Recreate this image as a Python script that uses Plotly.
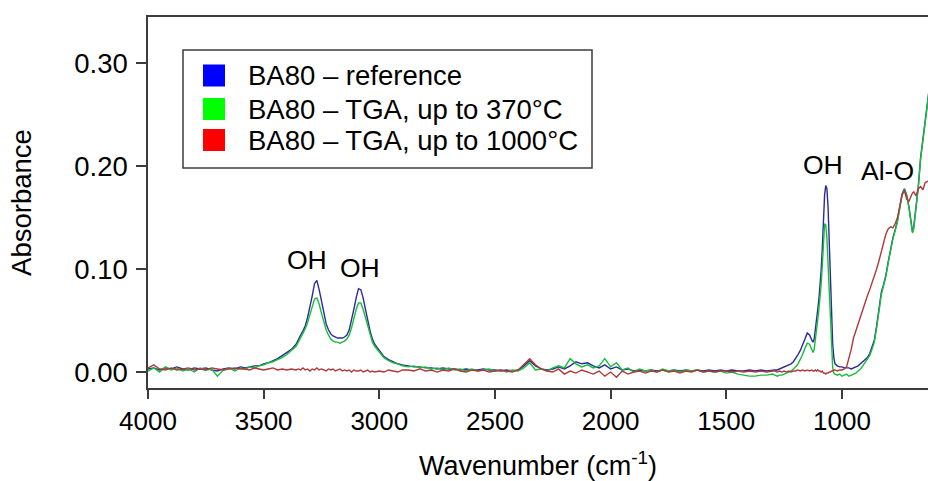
import plotly.graph_objects as go

# ---------------- data ----------------
wavenumber = [
    4000, 3975, 3950, 3925, 3900, 3875, 3850, 3825, 3800, 3775, 3750, 3725, 3700, 3675, 3650, 3625, 3600,
    3580, 3560, 3540, 3520, 3500, 3480, 3460, 3440, 3420, 3400, 3380, 3360,
    3350, 3340, 3330, 3320, 3310, 3300, 3290, 3280, 3270, 3260,
    3250, 3240, 3230, 3220, 3210, 3200, 3190, 3180, 3170, 3160,
    3150, 3140, 3130, 3120, 3110, 3100, 3090, 3080, 3070, 3060,
    3050, 3040, 3030, 3020,
    3000, 2980, 2960, 2940, 2920, 2900,
    2875, 2850, 2825, 2800, 2775, 2750, 2725, 2700, 2675, 2650, 2625, 2600, 2575, 2550, 2525, 2500,
    2475, 2450, 2425, 2400, 2375, 2350, 2325, 2300, 2275, 2250, 2225, 2200, 2175, 2150, 2125, 2100,
    2075, 2050, 2025, 2000, 1975, 1950, 1925, 1900, 1875, 1850, 1825, 1800, 1775, 1750, 1725, 1700,
    1675, 1650, 1625, 1600, 1575, 1550, 1525, 1500, 1475, 1450, 1425, 1400, 1375, 1350, 1325, 1300,
    1290, 1280, 1270, 1260, 1250, 1240, 1230, 1220, 1210, 1200, 1190, 1180, 1170, 1160, 1150, 1140, 1130,
    1125, 1120, 1115, 1110, 1105, 1100, 1095, 1090, 1085, 1080, 1075, 1070, 1065, 1060, 1055, 1050,
    1045, 1040, 1035, 1030,
    1020, 1010, 1000, 990, 980, 970, 960, 950, 940, 930, 920, 910, 900, 890, 880, 870, 860,
    850, 840, 830, 820, 810, 800, 790, 780, 770, 760, 750, 740, 730, 720, 710, 700,
    695, 690, 680, 670, 660, 650, 640, 630, 620,
]

absorbance_reference = [
    0.003, 0.004, 0.002, 0.004, 0.003, 0.005, 0.003, 0.002, 0.004, 0.003, 0.004, 0.002, 0.001, 0.003, 0.004, 0.003, 0.005,
    0.004, 0.005, 0.006, 0.006, 0.008, 0.009, 0.011, 0.013, 0.016, 0.019, 0.022, 0.027,
    0.032, 0.036, 0.040, 0.045, 0.053, 0.062, 0.074, 0.086, 0.089, 0.080,
    0.068, 0.056, 0.047, 0.041, 0.037, 0.035, 0.034, 0.033, 0.033, 0.033,
    0.034, 0.036, 0.041, 0.050, 0.061, 0.072, 0.081, 0.080, 0.072, 0.061,
    0.050, 0.040, 0.032, 0.027,
    0.021, 0.015, 0.012, 0.010, 0.008, 0.007,
    0.006, 0.005, 0.005, 0.004, 0.004, 0.003, 0.004, 0.003, 0.003, 0.002, 0.003, 0.002, 0.002, 0.003, 0.002, 0.002,
    0.001, 0.002, 0.001, 0.002, 0.006, 0.011, 0.006, 0.003, 0.002, 0.003, 0.005, 0.003, 0.006, 0.010, 0.008, 0.009,
    0.006, 0.004, 0.007, 0.003, 0.005, 0.002, 0.003, 0.001, 0.002, 0.001, 0.002, 0.001, 0.002, 0.001, 0.002, 0.001,
    0.002, 0.001, 0.002, 0.001, 0.002, 0.001, 0.002, 0.001, 0.002, 0.001, 0.001, 0.002, 0.001, 0.002, 0.001, 0.002,
    0.002, 0.002, 0.003, 0.004, 0.005, 0.006, 0.007, 0.008, 0.010, 0.013, 0.017, 0.021, 0.026, 0.032, 0.038, 0.036, 0.031,
    0.029, 0.032, 0.040, 0.050, 0.060, 0.070, 0.082, 0.098, 0.120, 0.148, 0.172, 0.181, 0.178, 0.160, 0.125, 0.090,
    0.055, 0.027, 0.014, 0.008,
    0.006, 0.005, 0.005, 0.004, 0.004, 0.004, 0.003, 0.004, 0.005, 0.006, 0.008, 0.010, 0.012, 0.014, 0.018, 0.024, 0.031,
    0.045, 0.062, 0.077, 0.085, 0.094, 0.107, 0.120, 0.130, 0.138, 0.147, 0.160, 0.173, 0.178, 0.172, 0.160, 0.143,
    0.136, 0.140, 0.158, 0.180, 0.208, 0.226, 0.245, 0.263, 0.280,
]

absorbance_tga_370 = [
    0.001, 0.004, 0.000, 0.005, 0.002, 0.004, 0.001, 0.003, 0.000, 0.004, 0.002, 0.003, -0.004, 0.002, 0.004, 0.001, 0.004,
    0.003, 0.005, 0.004, 0.006, 0.007, 0.009, 0.010, 0.012, 0.014, 0.017, 0.021, 0.025,
    0.029, 0.033, 0.037, 0.042, 0.048, 0.055, 0.064, 0.071, 0.072, 0.066,
    0.057, 0.048, 0.041, 0.036, 0.032, 0.030, 0.029, 0.029, 0.028, 0.029,
    0.030, 0.032, 0.036, 0.043, 0.052, 0.061, 0.067, 0.067, 0.061, 0.053,
    0.044, 0.036, 0.029, 0.025,
    0.019, 0.014, 0.011, 0.009, 0.008, 0.006,
    0.005, 0.006, 0.004, 0.005, 0.003, 0.004, 0.002, 0.004, 0.002, 0.003, 0.001, 0.003, 0.001, 0.002, 0.003, 0.001,
    0.002, 0.000, 0.002, 0.001, 0.004, 0.009, 0.002, 0.003, 0.001, 0.004, 0.006, 0.004, 0.013, 0.008, 0.005, 0.007,
    0.004, 0.006, 0.013, 0.005, 0.009, 0.002, 0.004, 0.000, 0.003, 0.001, 0.002, 0.000, 0.003, 0.001, 0.002, 0.000,
    0.002, 0.001, 0.002, 0.000, 0.001, 0.000, 0.001, -0.001, 0.000, -0.002, -0.003, -0.004, -0.004, -0.003, -0.003, -0.002,
    -0.003, -0.004, -0.003, -0.003, -0.002, -0.001, 0.000, 0.001, 0.003, 0.005, 0.008, 0.012, 0.017, 0.023, 0.028, 0.027, 0.021,
    0.019, 0.022, 0.030, 0.040, 0.050, 0.060, 0.071, 0.085, 0.103, 0.128, 0.144, 0.143, 0.130, 0.105, 0.075, 0.045,
    0.020, 0.004, -0.001, -0.002,
    -0.003, -0.002, -0.004, -0.003, -0.002, -0.004, -0.003, -0.002, -0.001, 0.001, 0.003, 0.006, 0.009, 0.012, 0.016, 0.022, 0.029,
    0.043, 0.060, 0.075, 0.084, 0.093, 0.106, 0.119, 0.129, 0.137, 0.146, 0.159, 0.172, 0.177, 0.171, 0.159, 0.142,
    0.135, 0.139, 0.157, 0.179, 0.207, 0.225, 0.244, 0.262, 0.279,
]

absorbance_tga_1000 = [
    0.004, 0.007, 0.003, 0.002, 0.004, 0.002, 0.003, 0.004, 0.002, 0.003, 0.002, 0.004, 0.003, 0.002, 0.003, 0.004, 0.003,
    0.003, 0.002, 0.004, 0.003, 0.002, 0.003, 0.004, 0.002, 0.003, 0.002, 0.003, 0.002,
    0.003, 0.002, 0.004, 0.002, 0.003, 0.001, 0.003, 0.002, 0.004, 0.002,
    0.003, 0.002, 0.001, 0.003, 0.002, 0.003, 0.001, 0.002, 0.003, 0.001,
    0.002, 0.001, 0.002, 0.000, 0.002, 0.001, 0.001, 0.002, 0.000, 0.001,
    0.002, 0.000, 0.001, 0.000,
    0.001, 0.000, 0.002, 0.001, 0.000, 0.002,
    0.002, 0.001, 0.003, 0.001, 0.002, 0.000, 0.002, 0.001, 0.003, 0.001, 0.000, 0.002, 0.001, 0.002, 0.000, 0.001,
    0.002, 0.001, 0.000, 0.002, 0.008, 0.013, 0.007, 0.003, 0.001, 0.000, 0.003, -0.002, 0.001, -0.001, 0.002, 0.000,
    -0.002, 0.001, -0.004, 0.000, -0.005, 0.001, -0.002, 0.000, 0.001, -0.001, 0.001, 0.000, 0.002, 0.000, 0.001, -0.001,
    0.001, 0.000, 0.002, 0.000, 0.001, 0.000, 0.001, 0.001, 0.000, 0.001, 0.000, 0.001, 0.000, 0.001, 0.000, 0.001,
    0.001, 0.000, 0.001, 0.000, 0.001, 0.000, 0.001, 0.000, 0.001, 0.001, 0.002, 0.001, 0.002, 0.001, 0.002, 0.001, 0.002,
    0.001, 0.001, 0.002, 0.001, 0.002, 0.001, 0.001, 0.000, 0.001, -0.001, -0.001, -0.002, -0.001, -0.001, 0.000, 0.000,
    0.001, 0.001, 0.002, 0.002,
    0.001, 0.002, 0.002, 0.003, 0.005, 0.013, 0.022, 0.033, 0.040, 0.048, 0.055, 0.062, 0.068, 0.074, 0.080, 0.086, 0.093,
    0.100, 0.108, 0.116, 0.125, 0.134, 0.139, 0.141, 0.140, 0.144, 0.150, 0.160, 0.172, 0.176, 0.168, 0.166, 0.172,
    0.174, 0.175, 0.171, 0.178, 0.180, 0.177, 0.184, 0.185, 0.187,
]

series_names = ["BA80 \u2013 reference", "BA80 \u2013 TGA, up to 370\u00b0C", "BA80 \u2013 TGA, up to 1000\u00b0C"]
series_values = [absorbance_reference, absorbance_tga_370, absorbance_tga_1000]

x_tick_values = [4000, 3500, 3000, 2500, 2000, 1500, 1000]
y_tick_values = [0.0, 0.1, 0.2, 0.3]

peak_labels = ["OH", "OH", "OH", "Al-O"]
peak_label_x = [3313, 3083, 1082, 805]
peak_label_y = [0.109, 0.101, 0.201, 0.195]

for v in series_values:
    assert len(v) == len(wavenumber), (len(v), len(wavenumber))

# ---------------- styling ----------------
FONT = "Liberation Sans, Arial, sans-serif"
W, H = 928, 481
ML, MR, MT, MB = 148, 0, 17, 93
PW, PH = W - ML - MR, H - MT - MB
AXIS_COLOR = "#3c3c3c"
line_colors = ["#2a2a9c", "#14c038", "#b03838"]
legend_colors = ["#0000ff", "#00ff00", "#ff0000"]


def paper_x(px):
    return (px - ML) / PW


def paper_y(py):
    return (H - MB - py) / PH


fig = go.Figure()
for name, vals, col in zip(series_names, series_values, line_colors):
    fig.add_trace(go.Scatter(
        x=wavenumber, y=vals, mode="lines", name=name,
        line=dict(color=col, width=1.4), showlegend=False,
    ))

# peak annotations
for t, xv, yv in zip(peak_labels, peak_label_x, peak_label_y):
    fig.add_annotation(x=xv, y=yv, xref="x", yref="y", text=t, showarrow=False,
                       font=dict(family=FONT, size=26.5, color="black"),
                       xanchor="center", yanchor="middle")

# hand-drawn legend (box, colour squares, labels)
shapes = [dict(type="rect", xref="paper", yref="paper",
               x0=paper_x(183), x1=paper_x(592), y0=paper_y(168), y1=paper_y(50),
               line=dict(color=AXIS_COLOR, width=1.5), fillcolor="white", layer="above")]
row_centers = [75.5, 109, 140]
for rc, col, name in zip(row_centers, legend_colors, series_names):
    shapes.append(dict(type="rect", xref="paper", yref="paper",
                       x0=paper_x(203), x1=paper_x(225), y0=paper_y(rc + 11), y1=paper_y(rc - 11),
                       line=dict(width=0), fillcolor=col, layer="above"))
    fig.add_annotation(x=paper_x(246), y=paper_y(rc), xref="paper", yref="paper",
                       text=name, showarrow=False, xanchor="left", yanchor="middle",
                       font=dict(family=FONT, size=27.5, color="black"))

fig.update_layout(
    width=W, height=H,
    margin=dict(l=ML, r=MR, t=MT, b=MB, pad=0),
    paper_bgcolor="white", plot_bgcolor="white",
    font=dict(family=FONT, size=26, color="black"),
    shapes=shapes,
    showlegend=False,
)
fig.update_xaxes(
    range=[4000, 628], autorange=False,
    tickmode="array", tickvals=x_tick_values, ticktext=[str(v) for v in x_tick_values],
    ticks="outside", ticklen=9, tickwidth=1.5, tickcolor=AXIS_COLOR,
    showline=True, linecolor=AXIS_COLOR, linewidth=1.5, mirror=True,
    showgrid=False, zeroline=False,
    tickfont=dict(family=FONT, size=26, color="black"),
    title=dict(text="Wavenumber (cm<sup>-1</sup>)", standoff=22,
               font=dict(family=FONT, size=27, color="black")),
)
fig.update_yaxes(
    range=[-0.0155, 0.3447], autorange=False,
    tickmode="array", tickvals=y_tick_values, ticktext=["%.2f" % v for v in y_tick_values],
    ticks="outside", ticklen=10, tickwidth=1.5, tickcolor=AXIS_COLOR,
    showline=True, linecolor=AXIS_COLOR, linewidth=1.5, mirror=False,
    showgrid=False, zeroline=False, ticklabelstandoff=3,
    tickfont=dict(family=FONT, size=27.5, color="black"),
    title=dict(text="Absorbance", standoff=35,
               font=dict(family=FONT, size=27.5, color="black")),
)

fig.write_html("out.html")
